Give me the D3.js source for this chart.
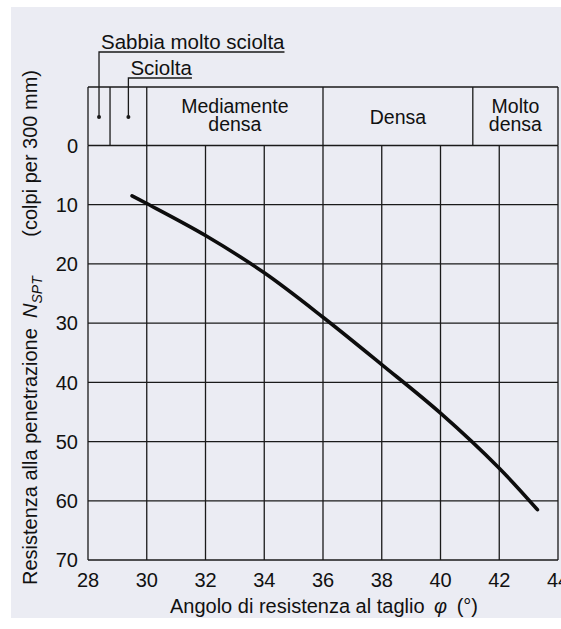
<!DOCTYPE html>
<html>
<head>
<meta charset="utf-8">
<script src="https://cdn.jsdelivr.net/npm/d3@7"></script>
<style>
  html, body { margin: 0; padding: 0; background: #ffffff; }
  svg { display: block; }
  text { font-family: "Liberation Sans", Arial, Helvetica, sans-serif; fill: #111; }
</style>
</head>
<body>
<svg id="chart" width="561" height="629"></svg>
<script>
// Friction angle (degrees) on the x axis, SPT blow count on the y axis
const phiTicks = [28, 30, 32, 34, 36, 38, 40, 42, 44];
const nTicks = [0, 10, 20, 30, 40, 50, 60, 70];

// Correlation curve N_SPT vs phi
const curvePhi = [29.5, 30, 32, 34, 36, 38, 40, 42, 43.3];
const curveN   = [8.5, 9.8, 15.2, 21.5, 29.0, 37.0, 45.2, 54.5, 61.5];

// Relative density classes along the phi axis
const classNames  = ["Sabbia molto sciolta", "Sciolta", "Mediamente densa", "Densa", "Molto densa"];
const classBounds = [28, 28.75, 30, 36, 41.1, 44];

const svg = d3.select("#chart");
const ink = "#1a1a1a";

// paper panel
svg.append("rect")
  .attr("x", 11).attr("y", 7).attr("width", 550).attr("height", 611)
  .attr("fill", "#ebecf3");

const x = d3.scaleLinear().domain([28, 44]).range([88, 558]);
const y = d3.scaleLinear().domain([0, 70]).range([145.5, 560]);
const headerTop = 87;

const grid = svg.append("g").attr("stroke", ink).attr("stroke-width", 1.3).attr("fill", "none");

// vertical grid lines
grid.selectAll("line.v").data(phiTicks).join("line")
  .attr("x1", d => x(d)).attr("x2", d => x(d))
  .attr("y1", y(0)).attr("y2", y(70));

// horizontal grid lines
grid.selectAll("line.h").data(nTicks).join("line")
  .attr("x1", x(28)).attr("x2", x(44))
  .attr("y1", d => y(d)).attr("y2", d => y(d));

// header box with density classes
grid.append("line").attr("x1", x(28)).attr("x2", x(44)).attr("y1", headerTop).attr("y2", headerTop);
grid.selectAll("line.hb").data(classBounds).join("line")
  .attr("x1", d => x(d)).attr("x2", d => x(d))
  .attr("y1", headerTop).attr("y2", y(0));

const classes = classNames.map((name, i) => ({
  name, lo: classBounds[i], hi: classBounds[i + 1], mid: (classBounds[i] + classBounds[i + 1]) / 2
}));

// wide classes: label inside the box, one text per line
const inside = classes.slice(2);
const insideText = svg.append("g").attr("font-size", 19.5).attr("text-anchor", "middle");
inside.forEach(c => {
  const words = c.name.split(" ");
  if (words.length === 1) {
    insideText.append("text").attr("x", x(c.mid)).attr("y", 124).text(words[0]);
  } else {
    insideText.append("text").attr("x", x(c.mid)).attr("y", 113).text(words[0]);
    insideText.append("text").attr("x", x(c.mid)).attr("y", 131).text(words.slice(1).join(" "));
  }
});

// narrow classes: label outside with a leader line
const outside = classes.slice(0, 2);
const leaderTops = [52, 78];
const leaderBaselines = [49, 75];
outside.forEach((c, i) => {
  const lx = x(c.mid);
  const t = svg.append("text")
    .attr("x", lx + 2).attr("y", leaderBaselines[i])
    .attr("font-size", 20.5).text(c.name);
  const w = t.node().getComputedTextLength();
  svg.append("path")
    .attr("d", `M${lx},117 V${leaderTops[i]} H${lx + 2 + w}`)
    .attr("fill", "none").attr("stroke", ink).attr("stroke-width", 1.3);
  svg.append("circle").attr("cx", lx).attr("cy", 117).attr("r", 2).attr("fill", ink);
});

// y tick labels
svg.append("g").attr("font-size", 20).attr("text-anchor", "end")
  .selectAll("text").data(nTicks).join("text")
  .attr("x", 78).attr("y", d => y(d)).attr("dy", "0.36em")
  .text(d => d);

// x tick labels
svg.append("g").attr("font-size", 20).attr("text-anchor", "middle")
  .selectAll("text").data(phiTicks).join("text")
  .attr("x", d => x(d)).attr("y", 587)
  .text(d => d);

// x axis title
const xt = svg.append("text").attr("x", 324).attr("y", 613)
  .attr("font-size", 20).attr("text-anchor", "middle");
xt.append("tspan").text("Angolo di resistenza al taglio ");
xt.append("tspan").attr("font-style", "italic").attr("dx", 4).text("\u03C6");
xt.append("tspan").attr("dx", 4).text(" (\u00B0)");

// y axis title (rotated)
const yg = svg.append("g").attr("transform", "translate(37,0) rotate(-90)").attr("font-size", 20);
yg.append("text").attr("x", -585).attr("y", 0).text("Resistenza alla penetrazione");
const nt = yg.append("text").attr("x", -318).attr("y", 0);
nt.append("tspan").attr("font-style", "italic").text("N");
nt.append("tspan").attr("font-style", "italic").attr("font-size", 14).attr("dy", 5).text("SPT");
yg.append("text").attr("x", -70).attr("y", 0).attr("text-anchor", "end").text("(colpi per 300 mm)");

// correlation curve
const pts = curvePhi.map((p, i) => [p, curveN[i]]);
svg.append("path")
  .datum(pts)
  .attr("d", d3.line().x(d => x(d[0])).y(d => y(d[1])).curve(d3.curveCatmullRom.alpha(0.5)))
  .attr("fill", "none").attr("stroke", "#0d0d0d").attr("stroke-width", 3.6)
  .attr("stroke-linecap", "round");
</script>
</body>
</html>
